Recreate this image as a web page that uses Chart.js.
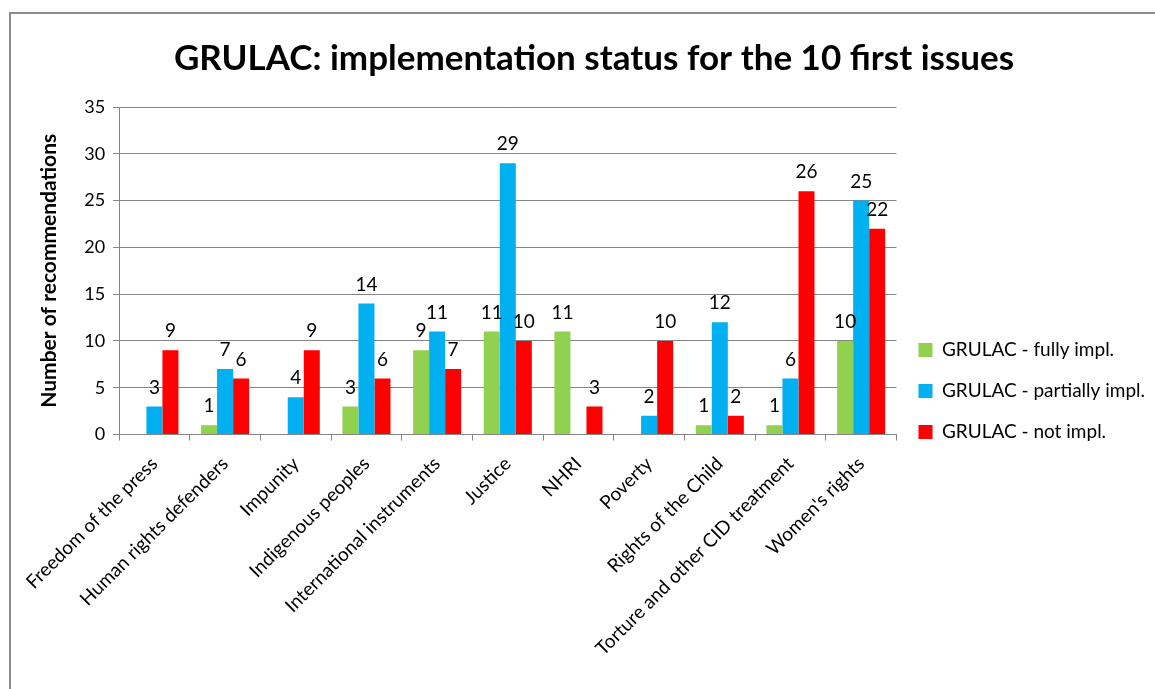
<!DOCTYPE html>
<html>
<head>
<meta charset="utf-8">
<script src="https://cdn.jsdelivr.net/npm/chart.js@4/dist/chart.umd.min.js"></script>
<style>
	body { margin: 0; background: #fff; }
	#wrap { position: relative; width: 1155px; height: 689px; overflow: hidden; }
	#frame { position: absolute; left: 9px; top: 12px; width: 1200px; height: 800px; border-left: 2px solid #8c8c8c; border-top: 2px solid #8c8c8c; }
	#box { position: absolute; left: 0; top: 0; width: 1155px; height: 689px; }
</style>
</head>
<body>
<div id="wrap">
	<div id="frame"></div>
	<div id="box"><canvas id="chart"></canvas></div>
</div>
<script>
const categories = ["Freedom of the press", "Human rights defenders", "Impunity", "Indigenous peoples",
	"International instruments", "Justice", "NHRI", "Poverty", "Rights of the Child",
	"Torture and other CID treatment", "Women's rights"];
const fullyImpl = [0, 1, 0, 3, 9, 11, 11, 0, 1, 1, 10];
const partiallyImpl = [3, 7, 4, 14, 11, 29, 0, 2, 12, 6, 25];
const notImpl = [9, 6, 9, 6, 7, 10, 3, 10, 2, 26, 22];

const font = "Lato, 'Liberation Sans', sans-serif";

// draw the numbers above each bar, skip zeros
const valueLabels = {
	id: 'valueLabels',
	afterDatasetsDraw(chart) {
		const ctx = chart.ctx;
		ctx.save();
		ctx.font = "19px " + font;
		ctx.fillStyle = "#000";
		ctx.textAlign = "center";
		ctx.textBaseline = "middle";
		chart.data.datasets.forEach((ds, i) => {
			const meta = chart.getDatasetMeta(i);
			meta.data.forEach((bar, j) => {
				if (ds.data[j] > 0) {
					ctx.fillText(ds.data[j], bar.x, bar.y - 19);
				}
			});
		});
		ctx.restore();
	}
};

// push the legend down so its last entry sits at the x axis, like excel
const legendDown = {
	id: 'legendDown',
	afterLayout(chart) {
		chart.legend.top += 29;
		chart.legend.bottom += 29;
	}
};

new Chart("chart", {
	type: "bar",
	data: {
		labels: categories,
		datasets: [
			{ label: "GRULAC - fully impl.", data: fullyImpl, backgroundColor: "#92D050" },
			{ label: "GRULAC - partially impl.", data: partiallyImpl, backgroundColor: "#00B0F0" },
			{ label: "GRULAC - not impl.", data: notImpl, backgroundColor: "#FF0000" },
		],
	},
	options: {
		responsive: true,
		maintainAspectRatio: false,
		animation: false,
		layout: { padding: { left: 33, right: 0, top: 0, bottom: 17 } },
		datasets: { bar: { categoryPercentage: 0.68, barPercentage: 1.0 } },
		plugins: {
			title: {
				display: true,
				text: "GRULAC: implementation status for the 10 first issues",
				color: "#000",
				font: { family: font, size: 35, weight: "bold" },
				padding: { top: 38, bottom: 27 },
			},
			legend: {
				position: "right",
				align: "end",
				fullSize: false,
				labels: {
					color: "#000",
					font: { family: font, size: 19 },
					boxWidth: 14,
					boxHeight: 14,
					padding: 22,
				},
			},
			tooltip: { enabled: false },
		},
		scales: {
			x: {
				grid: { drawOnChartArea: false, drawTicks: true, tickLength: 6, color: "#868686" },
				border: { color: "#868686", width: 1 },
				ticks: { color: "#000", font: { family: font, size: 19 }, minRotation: 45, maxRotation: 45, autoSkip: false, padding: 12 },
			},
			y: {
				min: 0,
				max: 35,
				ticks: { stepSize: 5, color: "#000", font: { family: font, size: 18 }, padding: 8 },
				grid: { color: "#868686", tickLength: 6 },
				border: { color: "#868686", width: 1 },
				title: {
					display: true,
					text: "Number of recommendations",
					color: "#000",
					font: { family: font, size: 21, weight: "bold" },
					padding: { bottom: 14 },
				},
			},
		},
	},
	plugins: [valueLabels, legendDown],
});
</script>
</body>
</html>
